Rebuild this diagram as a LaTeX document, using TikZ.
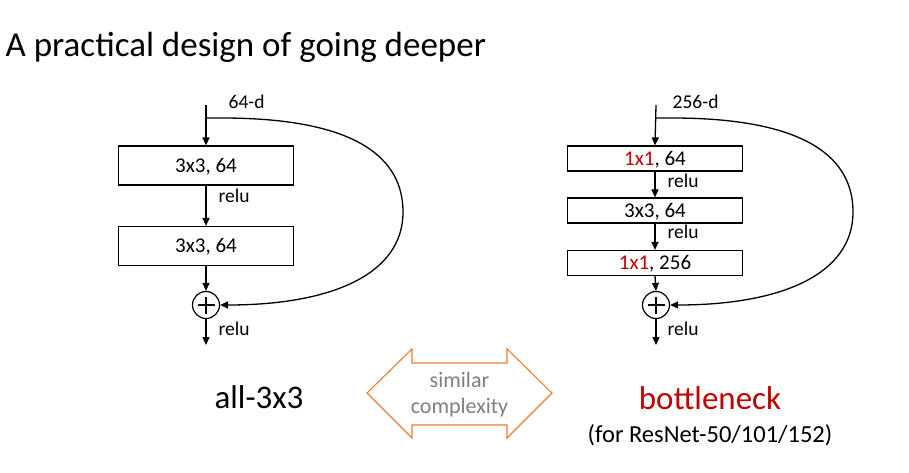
\documentclass[tikz,border=0pt]{standalone}
\usepackage{fontspec}
\setmainfont{Carlito}
\usetikzlibrary{arrows.meta}
\definecolor{dkred}{HTML}{C00000}
\definecolor{orng}{HTML}{ED7D31}
\definecolor{txtgray}{HTML}{7F7F7F}
\newcommand\bxfont{\fontsize{21}{25}\selectfont}
\newcommand\lbfont{\fontsize{19.5}{23}\selectfont}
\begin{document}
\begin{tikzpicture}[x=1pt,y=-1pt,
  line width=1.3pt,
  arr/.style={-{Triangle[length=8pt,width=7pt]}},
  blk/.style={draw, line width=1.2pt, minimum width=175pt, inner sep=0pt,
    font=\bxfont, text height=13.3pt, text depth=0pt},
  tall/.style={blk, minimum height=39pt},
  flat/.style={blk, minimum height=25pt},
  lbl/.style={anchor=base west, inner sep=0pt, font=\lbfont},
  sumnode/.style={circle, draw, line width=1.2pt, minimum size=27pt, inner sep=0pt,
    path picture={
      \draw[line width=1.2pt] ([xshift=-8.5pt]path picture bounding box.center) -- ([xshift=8.5pt]path picture bounding box.center);
      \draw[line width=1.2pt] ([yshift=-8.5pt]path picture bounding box.center) -- ([yshift=8.5pt]path picture bounding box.center);}},
  bigtxt/.style={anchor=base, inner sep=0pt, font=\fontsize{33}{38}\selectfont}
]
\useasboundingbox (0,0) rectangle (909,472);

% title
\node[anchor=base west, inner sep=0pt, font=\fontsize{35}{40}\selectfont] (title) at (5,56) {A practical design of going deeper};

% ---------- left: all-3x3 ----------
\coordinate (Ltop) at (206,105);
\coordinate (Lbr) at (206,118);
\coordinate (Lbrr) at (222,118);
\node[tall] (L1) at (206,165.5) {3x3, 64};
\node[tall] (L2) at (206,246) {3x3, 64};
\node[sumnode] (Lsum) at (206,305) {};
\coordinate (Lout) at (206,345);
\node[lbl] (Lin) at (228,108) {64-d};
\node[lbl] (Lr1) at (218,202) {relu};
\node[lbl] (Lr2) at (218,335) {relu};

\draw[arr] (Ltop) -- (L1.north);
\draw[arr] (L1.south) -- (L2.north);
\draw[arr] (L2.south) -- (Lsum.north);
\draw[arr] (Lsum.south) -- (Lout);
\draw[arr] (Lbr) -- (Lbrr) .. controls (360,118) and (403,160) .. (403,212)
  .. controls (403,275) and (330,305) .. (Lsum.east);

\node[bigtxt] (Lname) at (259,408) {all-3x3};

% ---------- right: bottleneck ----------
\coordinate (Rtop) at (656,105);
\coordinate (Rbr) at (656,118);
\coordinate (Rbrr) at (672,118);
\node[flat] (R1) at (655,158.5) {\textcolor{dkred}{1x1}, 64};
\node[flat] (R2) at (655,210.5) {3x3, 64};
\node[flat] (R3) at (655,263) {\textcolor{dkred}{1x1}, 256};
\node[sumnode] (Rsum) at (656,305) {};
\coordinate (Rout) at (656,345);
\node[lbl] (Rin) at (672,108) {256-d};
\node[lbl] (Rr1) at (667,187) {relu};
\node[lbl] (Rr2) at (667,238) {relu};
\node[lbl] (Rr3) at (667,335) {relu};

\draw[arr] (Rtop) -- (R1.north);
\draw[arr] (R1.south) -- (R2.north);
\draw[arr] (R2.south) -- (R3.north);
\draw[arr] (R3.south) -- (Rsum.north);
\draw[arr] (Rsum.south) -- (Rout);
\draw[arr] (Rbr) -- (Rbrr) .. controls (810,118) and (853,160) .. (853,212)
  .. controls (853,275) and (780,305) .. (Rsum.east);

\node[bigtxt, text=dkred] (Rname) at (710,409) {bottleneck};
\node[anchor=base, inner sep=0pt, font=\fontsize{24.5}{29}\selectfont] (Rsub) at (710,442) {(for ResNet-50/101/152)};

% ---------- double arrow ----------
\draw[orng, line width=1.1pt, line join=miter]
  (367,393) -- (412,349) -- (412,363) -- (507,363) -- (507,349) -- (552,393)
  -- (507,438) -- (507,425) -- (412,425) -- (412,438) -- cycle;
\node[anchor=base, inner sep=0pt, text=txtgray, font=\fontsize{22}{26}\selectfont] (sim1) at (459.5,387) {similar};
\node[anchor=base, inner sep=0pt, text=txtgray, font=\fontsize{22}{26}\selectfont] (sim2) at (459.5,413) {complexity};
\end{tikzpicture}
\end{document}
